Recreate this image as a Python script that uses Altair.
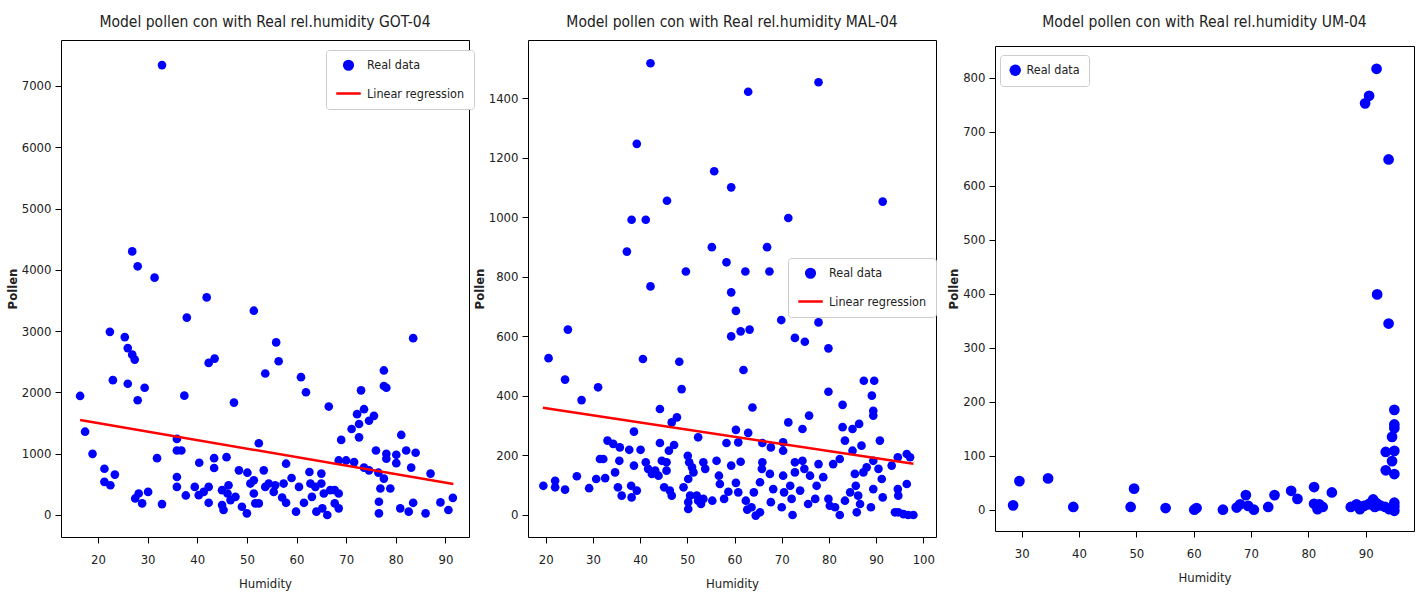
import altair as alt
import pandas as pd

FONT = "Liberation Sans Narrow, DejaVu Sans Condensed, Liberation Sans, sans-serif"

# ---------------- GOT-04 ----------------
got_humidity = [32.9, 26.9, 28.0, 31.4, 41.9, 51.4, 37.9, 22.4, 25.4, 26.0, 26.9, 27.4, 42.3, 43.5, 53.7,
                23.0, 26.0, 29.4, 28.0, 16.4, 37.4, 47.4, 17.4, 35.9, 52.4, 18.9, 35.9, 36.8, 31.9, 43.4,
                45.9, 40.4, 43.4, 21.3, 23.4, 21.3, 22.5, 48.4, 50.1, 53.4, 35.9, 35.9, 27.5, 28.9, 30.1,
                32.9, 28.2, 37.7, 39.5, 40.3, 41.3, 42.3, 42.3, 45.0, 45.3, 46.3, 47.7, 49.0, 50.0, 50.7,
                51.4, 52.4, 53.7, 51.4, 51.7, 46.1, 45.0, 46.7,
                55.9, 56.4, 60.9, 61.9, 66.5, 73.0, 77.6, 77.6, 78.1, 83.5, 73.6, 72.2, 75.6, 74.6, 72.6,
                71.1, 72.6, 69.0, 81.1, 82.1, 84.0, 76.0, 78.1, 78.1, 80.1, 80.1, 83.1, 87.0, 68.5, 70.0,
                71.6, 73.6, 74.6, 57.9, 76.5, 77.6, 76.9, 78.9, 76.6, 76.6, 80.9, 82.6, 83.5, 86.0, 89.0,
                90.6, 91.5, 54.4, 55.7, 55.4, 57.1, 57.9, 57.4, 59.0, 59.9, 60.5, 61.5, 62.6, 62.8, 63.1,
                64.0, 65.0, 65.0, 65.5, 65.2, 66.2, 66.8, 67.7, 68.5, 67.7, 68.5, 63.8]
got_pollen = [7340, 4300, 4057, 3872, 3550, 3333, 3220, 2988, 2902, 2723, 2616, 2535, 2481, 2551, 2309,
              2200, 2141, 2076, 1872, 1942, 1947, 1834, 1359, 1241, 1170, 998, 1052, 1052, 927, 927,
              944, 852, 766, 755, 659, 540, 485, 728, 690, 728, 620, 458, 270, 189, 377,
              178, 351, 319, 458, 324, 377, 458, 199, 405, 81, 485, 296, 135, 27, 513,
              351, 189, 458, 566, 189, 351, 162, 243,
              2816, 2508, 2249, 2002, 1769, 2034, 2358, 2104, 2076, 2885, 1726, 1645, 1618, 1537, 1484,
              1403, 1267, 1225, 1306, 1052, 1015, 1052, 998, 917, 982, 846, 772, 675, 890, 890,
              863, 772, 728, 837, 690, 594, 432, 432, 216, 27, 108, 54, 199, 27, 205,
              81, 280, 513, 485, 377, 286, 199, 513, 604, 54, 458, 199, 701, 513, 296,
              54, 675, 513, 351, 108, 0, 405, 405, 351, 189, 108, 458]
got_reg_humidity = [16.4, 91.6]
got_reg_pollen = [1550, 505]

# ---------------- MAL-04 ----------------
mal_humidity = [42.2, 62.9, 77.8, 39.3, 55.7, 59.3, 45.7, 91.4, 38.2, 41.2, 71.4, 37.2, 55.2, 66.9, 58.3,
                49.7, 62.3, 67.4, 42.2, 59.3, 60.3, 69.9, 77.8, 24.7, 59.3, 61.3, 63.2, 72.8, 74.9, 79.9,
                20.6, 40.6, 48.3, 61.9, 24.1, 31.1, 48.8, 87.4, 89.6, 79.9, 27.6, 89.1, 82.9, 44.2, 63.8,
                89.4, 89.4, 75.8, 47.8, 46.7, 71.4, 86.4, 38.7, 60.3, 62.9, 74.4, 82.9, 85.0, 52.3, 33.1,
                34.3, 35.7, 37.7, 40.1, 44.2, 47.2, 46.1, 58.3, 60.8, 65.9, 67.7, 70.3, 70.3, 83.4, 86.9,
                90.8, 85.0, 31.5, 32.2, 35.6, 34.7, 38.7, 41.2, 41.7, 42.5, 43.2, 43.9, 44.6, 45.6, 45.6,
                45.1, 46.3, 46.7, 49.2, 50.1, 50.4, 51.0, 51.3, 50.2, 50.6, 50.2, 50.2, 52.0, 52.3, 52.9,
                53.4, 53.4, 53.8, 55.3, 56.2, 56.7, 56.9, 57.8, 58.7, 59.3, 60.3, 60.8, 61.3, 62.4, 62.7,
                63.6, 64.5, 65.4, 64.1, 65.4, 65.8, 65.9, 67.5, 67.7, 68.2, 70.0, 70.5, 70.3, 71.8, 72.1,
                72.3, 72.8, 72.8, 73.9, 74.4, 74.8, 75.6, 76.0, 77.1, 77.4, 77.8, 78.8, 79.9, 80.2, 80.9,
                81.3, 82.3, 82.3, 83.4, 84.5, 85.5, 85.7, 85.9, 86.2, 86.6, 87.3, 88.0, 88.9, 89.4, 89.4,
                90.5, 91.2, 91.4, 93.3, 94.0, 94.6, 94.6, 94.7, 96.5, 96.5, 97.2, 95.8, 96.8, 97.9, 94.7,
                19.5, 22.0, 22.0, 24.1, 26.6, 29.2, 30.7, 32.6, 35.3, 36.1, 38.1, 38.2, 39.3]
mal_pollen = [1518, 1422, 1454, 1247, 1155, 1101, 1056, 1053, 992, 992, 998, 885, 900, 900, 849,
              818, 818, 818, 768, 748, 686, 655, 647, 623, 600, 617, 623, 595, 582, 560,
              527, 524, 515, 487, 455, 429, 423, 451, 451, 414, 386, 401, 370, 356, 361,
              350, 334, 334, 328, 311, 311, 306, 280, 286, 276, 289, 295, 289, 261, 250,
              239, 227, 219, 219, 242, 235, 216, 242, 244, 242, 227, 244, 216, 250, 233,
              250, 216, 188, 188, 182, 143, 166, 177, 155, 138, 149, 132, 182, 177, 149,
              93, 82, 65, 93, 199, 177, 160, 143, 121, 65, 43, 20, 65, 48, 37,
              54, 177, 155, 48, 182, 132, 104, 54, 78, 166, 108, 76, 179, 48, 18,
              26, -2, 9, 76, 110, 155, 177, 138, 43, 87, 26, 76, 132, 98, 54,
              0, 143, 177, 82, 182, 155, 37, 132, 54, 98, 171, 127, 54, 31, 171,
              26, 188, 0, 48, 76, 138, 98, 9, 65, 37, 143, 160, 26, 87, 182,
              155, 121, 59, 166, 9, 194, 87, 65, 104, 205, 194, 3, 0, 0, 9,
              98, 115, 93, 85, 130, 90, 121, 124, 93, 65, 98, 59, 82]
mal_reg_humidity = [19.4, 97.9]
mal_reg_pollen = [360, 172]

# ---------------- UM-04 ----------------
um_humidity = [91.9, 89.9, 90.6, 94.0, 92.0, 94.0, 95.0, 95.0, 95.0, 94.6, 95.0, 93.5, 94.6, 93.5, 95.0,
               28.5, 29.6, 34.6, 39.0, 49.0, 49.6, 55.1, 60.1, 60.5, 65.1, 67.5, 68.1, 69.1, 69.5, 70.5,
               73.0, 74.1, 77.0, 78.1, 81.0, 81.0, 81.6, 81.9, 82.5, 84.1, 87.4, 88.4, 89.0, 89.7, 90.5,
               91.3, 91.6, 92.5, 93.4, 94.1, 95.0, 95.0, 95.0, 90.8, 91.9]
um_pollen = [817, 753, 767, 649, 399, 345, 185, 158, 151, 135, 109, 107, 90, 73, 66,
             8, 53, 58, 5, 5, 39, 3, 0, 3, 0, 4, 10, 27, 7, 0,
             5, 27, 35, 20, 42, 11, 1, 10, 5, 32, 5, 10, 1, 7, 10,
             19, 5, 8, 5, 1, 13, -2, 6, 12, 12]

SERIES = ["Real data", "Linear regression"]
COLORS = ["blue", "red"]
SHAPES = ["circle", "stroke"]
SIZES = [75, 600]
POINT_SIZE = 115


def legend_for(lx, ly, **extra):
    return alt.Legend(
        orient="none", legendX=lx, legendY=ly, title=None,
        fillColor="white", strokeColor="#cccccc", cornerRadius=3, padding=9,
        labelFont=FONT, labelFontSize=12.5, labelColor="#222222", labelOffset=5,
        symbolOpacity=1, rowPadding=5, **extra,
    )


def panel(hum, pol, reg_h, reg_p, title, xdom, ydom, xticks, yticks, w, h,
          lx, ly, title_offset):
    pts = pd.DataFrame({"Humidity": hum, "Pollen": pol, "series": "Real data"})
    x = alt.X("Humidity:Q", scale=alt.Scale(domain=xdom, nice=False, zero=False),
              axis=alt.Axis(values=xticks, title="Humidity", format="d"))
    y = alt.Y("Pollen:Q", scale=alt.Scale(domain=ydom, nice=False, zero=False),
              axis=alt.Axis(values=yticks, title="Pollen", format="d"))
    if reg_h is not None:
        legend = legend_for(lx, ly, symbolStrokeWidth=2.5)
        fill_scale = alt.Scale(domain=SERIES, range=COLORS)
        stroke_scale = alt.Scale(domain=SERIES, range=COLORS)
        shape_scale = alt.Scale(domain=SERIES, range=SHAPES)
        size_scale = alt.Scale(domain=SERIES, range=SIZES)
        base = alt.Chart(pts).mark_point(filled=True, opacity=1, strokeWidth=0, size=POINT_SIZE).encode(
            x=x, y=y,
            fill=alt.Fill("series:N", scale=fill_scale, legend=legend),
            stroke=alt.Stroke("series:N", scale=stroke_scale, legend=legend),
            shape=alt.Shape("series:N", scale=shape_scale, legend=legend),
            size=alt.Size("series:N", scale=size_scale, legend=legend),
        )
        reg = pd.DataFrame({"Humidity": reg_h, "Pollen": reg_p, "series": "Linear regression"})
        line = alt.Chart(reg).mark_line(strokeWidth=2.5).encode(
            x=x, y=y,
            stroke=alt.Stroke("series:N", scale=stroke_scale, legend=legend),
        )
        layers = [base, line]
    else:
        fill_scale = alt.Scale(domain=["Real data"], range=["blue"])
        legend1 = legend_for(lx, ly, symbolType="circle", symbolSize=130, symbolStrokeWidth=0)
        base = alt.Chart(pts).mark_point(filled=True, opacity=1, strokeWidth=0, size=POINT_SIZE).encode(
            x=x, y=y,
            fill=alt.Fill("series:N", scale=fill_scale, legend=legend1),
        )
        layers = [base]
    return alt.layer(*layers).properties(
        width=w, height=h,
        title=alt.TitleParams(title, font=FONT, fontSize=15.5, fontWeight="normal",
                              color="#222222", offset=title_offset, anchor="middle"),
    )


p1 = panel(got_humidity, got_pollen, got_reg_humidity, got_reg_pollen,
           "Model pollen con with Real rel.humidity GOT-04",
           [12.55, 94.75], [-359, 7749], list(range(20, 91, 10)), list(range(0, 7001, 1000)),
           408, 497, 265, 10, 10)
p2 = panel(mal_humidity, mal_pollen, mal_reg_humidity, mal_reg_pollen,
           "Model pollen con with Real rel.humidity MAL-04",
           [16.25, 102.69], [-74, 1596], list(range(20, 101, 10)), list(range(0, 1401, 200)),
           408, 497, 260, 218, 10)
p3 = panel(um_humidity, um_pollen, None, None,
           "Model pollen con with Real rel.humidity UM-04",
           [25.34, 98.43], [-39.5, 859.3], list(range(30, 91, 10)), list(range(0, 801, 100)),
           419, 485, 5, 9, 16)

res = dict(fill="independent", stroke="independent", shape="independent", size="independent",
           x="independent", y="independent")
leg = dict(fill="independent", stroke="independent", shape="independent", size="independent")

chart = alt.hconcat(p1, p2, p3, spacing=59, bounds="flush", center=True).resolve_scale(
    **res).resolve_legend(**leg)

chart = chart.properties(
    background="white",
    padding={"left": 5, "top": 14, "right": 0, "bottom": 0},
).configure_view(
    stroke="#000000", strokeWidth=1
).configure_axis(
    grid=False, domain=False, tickColor="#000000", tickSize=6, tickWidth=1,
    labelFont=FONT, labelFontSize=13, labelColor="#222222", labelPadding=4,
    titleFont=FONT, titleFontSize=13, titleColor="#222222", titleFontWeight="normal",
).configure_axisY(
    titleFontWeight="bold", titlePadding=2
).configure_axisX(
    labelPadding=10, titlePadding=11
)

chart.save("out.html", embed_options={"renderer": "svg", "actions": False})
